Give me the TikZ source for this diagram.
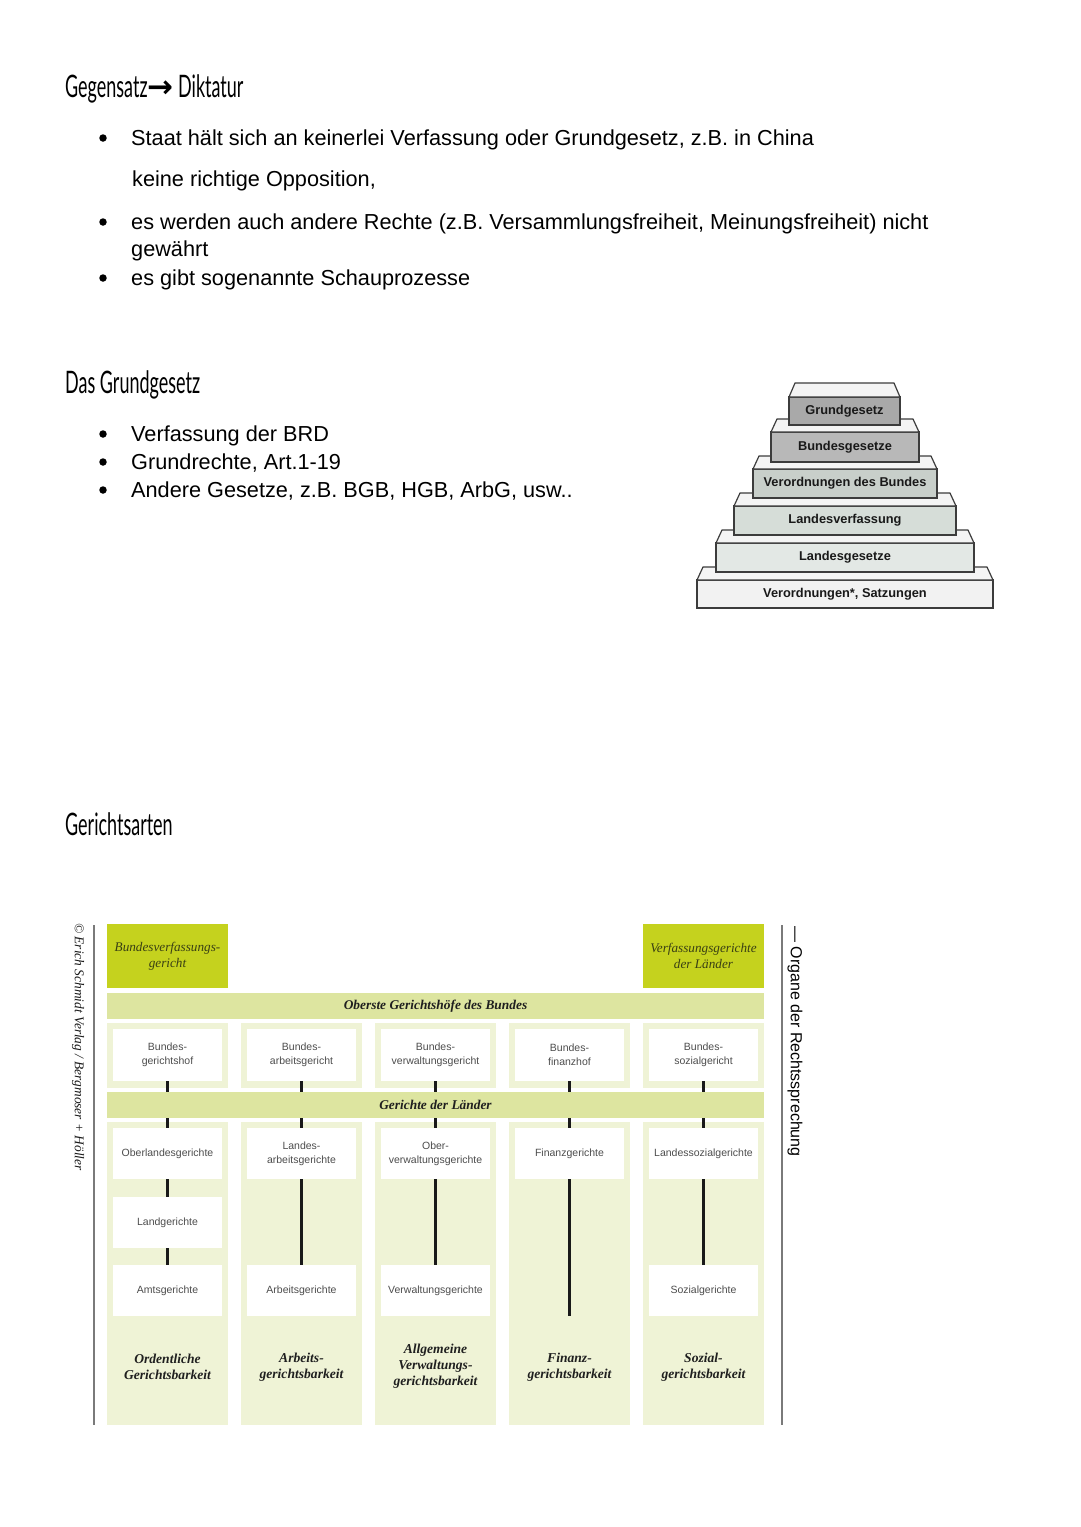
\documentclass[tikz,border=0pt]{standalone}
\usepackage{fontspec}
\setmainfont{Liberation Sans}
\newfontfamily\handfont[FakeStretch=0.58]{Lato}
\newfontfamily\arrowfont{DejaVu Sans}
\newfontfamily\bookfont{Liberation Serif}
\usepackage{tikz}
\usetikzlibrary{calc,positioning}
\definecolor{StepLine}{HTML}{3C3C3C}
\definecolor{StepTop}{HTML}{F4F4F4}
\definecolor{StepA}{HTML}{A9A9A9}
\definecolor{StepB}{HTML}{B8B8B8}
\definecolor{StepC}{HTML}{C8CFCA}
\definecolor{StepD}{HTML}{D6DDD8}
\definecolor{StepE}{HTML}{E3E8E5}
\definecolor{StepF}{HTML}{F2F2F2}
\definecolor{CourtDark}{HTML}{C5D21E}
\definecolor{CourtBand}{HTML}{DDE5A0}
\definecolor{CourtCol}{HTML}{EFF3D6}
\definecolor{CourtOlive}{HTML}{3A4014}
\definecolor{CourtGray}{HTML}{4D4D4D}
\definecolor{FrameGray}{HTML}{7A7A7A}

\begin{document}
\begin{tikzpicture}[
x=1pt,y=-1pt,
head/.style={anchor=base west,inner sep=0pt,font=\handfont\fontsize{31}{31}\selectfont},
body/.style={anchor=base west,inner sep=0pt,font=\fontsize{21.7}{26}\selectfont},
dot/.style={circle,fill=black,inner sep=0pt,minimum size=7.5pt},
stepbox/.style={draw=StepLine,line width=1.2pt,inner sep=0pt,outer sep=0pt,text=black!90,font=\bfseries\fontsize{12.8}{14}\selectfont},
topface/.style={draw=StepLine,line width=1.2pt,fill=StepTop,line join=round},
colbox/.style={fill=CourtCol,inner sep=0pt,outer sep=0pt,minimum width=121pt},
band/.style={fill=CourtBand,inner sep=0pt,outer sep=0pt,minimum width=657pt,minimum height=26pt,text=black!88,font=\bookfont\bfseries\itshape\fontsize{13.4}{15}\selectfont},
dark/.style={fill=CourtDark,inner sep=0pt,outer sep=0pt,minimum width=121pt,minimum height=64pt,align=center,text=CourtOlive,font=\bookfont\itshape\fontsize{13.2}{16}\selectfont},
court/.style={fill=white,inner sep=0pt,outer sep=0pt,minimum width=109pt,minimum height=51pt,align=center,text=CourtGray,font=\fontsize{10.5}{14}\selectfont},
branch/.style={inner sep=0pt,align=center,text=black!88,font=\bookfont\bfseries\itshape\fontsize{13.6}{16}\selectfont},
link/.style={line width=2.4pt,black!90},
frame/.style={line width=1.4pt,FrameGray}
]
\useasboundingbox (0,0) rectangle (1080,1527);

% Diktatur
\node[head] (gegen) at (65,97) {Gegensatz{\arrowfont\bfseries →} Diktatur};
\node[dot] (d1) at (103,138) {};
\node[body] (t1) at (131,145) {Staat hält sich an keinerlei Verfassung oder Grundgesetz, z.B. in China};
\node[body] (t1b) at (132,186) {keine richtige Opposition,};
\node[dot] (d2) at (103,222) {};
\node[body] (t2) at (131,229) {es werden auch andere Rechte (z.B. Versammlungsfreiheit, Meinungsfreiheit) nicht};
\node[body] (t2b) at (131,256) {gewährt};
\node[dot] (d3) at (103,278) {};
\node[body] (t3) at (131,285) {es gibt sogenannte Schauprozesse};

% Grundgesetz
\node[head] (gg) at (65,393) {Das Grundgesetz};
\node[dot] (d4) at (103,434) {};
\node[body] (t4) at (131,441) {Verfassung der BRD};
\node[dot] (d5) at (103,462) {};
\node[body] (t5) at (131,469) {Grundrechte, Art.1-19};
\node[dot] (d6) at (103,490) {};
\node[body] (t6) at (131,497) {Andere Gesetze, z.B. BGB, HGB, ArbG, usw..};

% Normenpyramide
\node[stepbox,fill=StepF,minimum width=296pt,minimum height=28pt] (s6) at (845,594) {Verordnungen*, Satzungen};
\draw[topface] (s6.north west) -- ++(6,-13) -- ($(s6.north east)+(-6,-13)$) -- (s6.north east) -- cycle;
\node[stepbox,fill=StepE,minimum width=258pt,minimum height=29pt] (s5) at (845,557.5) {Landesgesetze};
\draw[topface] (s5.north west) -- ++(6,-13) -- ($(s5.north east)+(-6,-13)$) -- (s5.north east) -- cycle;
\node[stepbox,fill=StepD,minimum width=222pt,minimum height=29pt] (s4) at (845,520.5) {Landesverfassung};
\draw[topface] (s4.north west) -- ++(6,-13) -- ($(s4.north east)+(-6,-13)$) -- (s4.north east) -- cycle;
\node[stepbox,fill=StepC,minimum width=184pt,minimum height=29pt] (s3) at (845,483.5) {Verordnungen des Bundes};
\draw[topface] (s3.north west) -- ++(6,-13) -- ($(s3.north east)+(-6,-13)$) -- (s3.north east) -- cycle;
\node[stepbox,fill=StepB,minimum width=148pt,minimum height=30pt] (s2) at (845,447) {Bundesgesetze};
\draw[topface] (s2.north west) -- ++(6,-13) -- ($(s2.north east)+(-6,-13)$) -- (s2.north east) -- cycle;
\node[stepbox,fill=StepA,minimum width=111pt,minimum height=28pt] (s1) at (844.5,411) {Grundgesetz};
\draw[topface] (s1.north west) -- ++(6,-14) -- ($(s1.north east)+(-6,-14)$) -- (s1.north east) -- cycle;

% Gerichtsarten
\node[head] (ga) at (65,835) {Gerichtsarten};

\node[rotate=-90,inner sep=0pt,text=black!90,font=\bookfont\itshape\fontsize{13.4}{14}\selectfont] (copy) at (78,1047) {© Erich Schmidt Verlag / Bergmoser + Höller};
\draw[frame] (94,925) -- (94,1425);
\draw[frame] (782,925) -- (782,1425);
\node[rotate=-90,inner sep=0pt,font=\fontsize{16}{16}\selectfont] (organe) at (795,1041.5) {— Organe der Rechtssprechung};

\node[dark] (bverfg) at (167.5,956) {Bundesverfassungs-\\gericht};
\node[dark] (lverfg) at (703.5,956) {Verfassungsgerichte\\der Länder};
\node[band] (obg) at (435.5,1006) {Oberste Gerichtshöfe des Bundes};

% Spalten
\node[colbox,minimum height=65pt] (cu1) at (167.5,1055.5) {};
\node[colbox,minimum height=65pt] (cu2) at (301.5,1055.5) {};
\node[colbox,minimum height=65pt] (cu3) at (435.5,1055.5) {};
\node[colbox,minimum height=65pt] (cu4) at (569.5,1055.5) {};
\node[colbox,minimum height=65pt] (cu5) at (703.5,1055.5) {};
\node[colbox,minimum height=303pt] (cl1) at (167.5,1273.5) {};
\node[colbox,minimum height=303pt] (cl2) at (301.5,1273.5) {};
\node[colbox,minimum height=303pt] (cl3) at (435.5,1273.5) {};
\node[colbox,minimum height=303pt] (cl4) at (569.5,1273.5) {};
\node[colbox,minimum height=303pt] (cl5) at (703.5,1273.5) {};
\node[band] (gdl) at (435.5,1105) {Gerichte der Länder};

% Gerichte
\node[court,minimum height=52pt] (bgh) at (167.5,1055) {Bundes-\\gerichtshof};
\node[court,minimum height=52pt] (bag) at (301.5,1055) {Bundes-\\arbeitsgericht};
\node[court,minimum height=52pt] (bverwg) at (435.5,1055) {Bundes-\\verwaltungsgericht};
\node[court,minimum height=52pt] (bfh) at (569.5,1055) {Bundes-\\finanzhof};
\node[court,minimum height=52pt] (bsg) at (703.5,1055) {Bundes-\\sozialgericht};
\node[court] (olg) at (167.5,1153.5) {Oberlandesgerichte};
\node[court] (lag) at (301.5,1153.5) {Landes-\\arbeitsgerichte};
\node[court] (ovg) at (435.5,1153.5) {Ober-\\verwaltungsgerichte};
\node[court] (fg) at (569.5,1153.5) {Finanzgerichte};
\node[court] (lsg) at (703.5,1153.5) {Landessozialgerichte};
\node[court] (lg) at (167.5,1222.5) {Landgerichte};
\node[court] (ag) at (167.5,1290.5) {Amtsgerichte};
\node[court] (arbg) at (301.5,1290.5) {Arbeitsgerichte};
\node[court] (vg) at (435.5,1290.5) {Verwaltungsgerichte};
\node[court] (sg) at (703.5,1290.5) {Sozialgerichte};
\coordinate (fgend) at (569.5,1316);

\node[branch] (ordg) at (167.5,1367) {Ordentliche\\Gerichtsbarkeit};
\node[branch] (arbgb) at (301.5,1367) {Arbeits-\\gerichtsbarkeit};
\node[branch] (verwgb) at (435.5,1366) {Allgemeine\\Verwaltungs-\\gerichtsbarkeit};
\node[branch] (fingb) at (569.5,1367) {Finanz-\\gerichtsbarkeit};
\node[branch] (sozgb) at (703.5,1367) {Sozial-\\gerichtsbarkeit};

% Instanzenzug
\draw[link] (bgh.south) -- (bgh.south |- gdl.north);
\draw[link] (bag.south) -- (bag.south |- gdl.north);
\draw[link] (bverwg.south) -- (bverwg.south |- gdl.north);
\draw[link] (bfh.south) -- (bfh.south |- gdl.north);
\draw[link] (bsg.south) -- (bsg.south |- gdl.north);
\draw[link] (olg.north |- gdl.south) -- (olg.north);
\draw[link] (lag.north |- gdl.south) -- (lag.north);
\draw[link] (ovg.north |- gdl.south) -- (ovg.north);
\draw[link] (fg.north |- gdl.south) -- (fg.north);
\draw[link] (lsg.north |- gdl.south) -- (lsg.north);
\draw[link] (olg) -- (lg);
\draw[link] (lg) -- (ag);
\draw[link] (lag) -- (arbg);
\draw[link] (ovg) -- (vg);
\draw[link] (fg.south) -- (fgend);
\draw[link] (lsg) -- (sg);
\end{tikzpicture}
\end{document}
